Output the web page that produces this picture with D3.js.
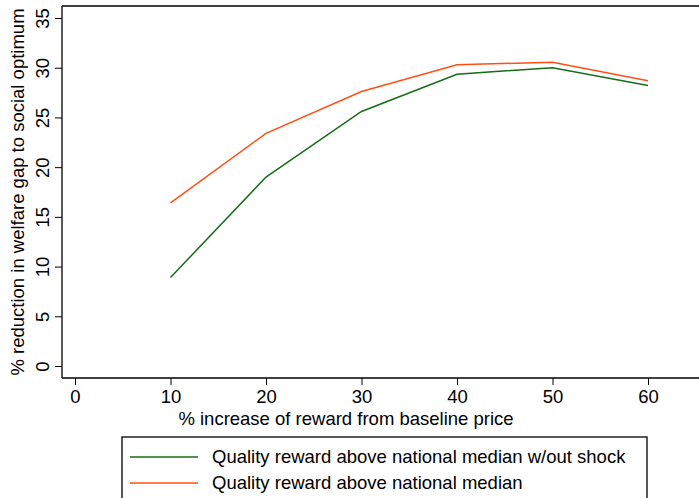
<!DOCTYPE html>
<html>
<head>
<meta charset="utf-8">
<script src="https://cdn.jsdelivr.net/npm/d3@7"></script>
<style>
  html, body { margin: 0; padding: 0; background: #fff; }
  svg { display: block; font-family: "Liberation Sans", Arial, sans-serif; }
</style>
</head>
<body>
<div class="chart_area"></div>
<script>

// data
var rewardIncrease = [10, 20, 30, 40, 50, 60];
var noShock = [8.9, 19.0, 25.6, 29.35, 30.0, 28.2];
var withShock = [16.4, 23.4, 27.6, 30.3, 30.55, 28.7];

var xTicks = [0, 10, 20, 30, 40, 50, 60];
var yTicks = [0, 5, 10, 15, 20, 25, 30, 35];

var seriesNames = ["Quality reward above national median w/out shock", "Quality reward above national median"];
var seriesColors = ["#176c17", "#ff4f12"];

var width = 699, height = 498;
var fontSize = "18.5px";

// plot region (frame runs off the right side of the picture)
var frame = { left: 62, top: 6, bottom: 378 };

var svg = d3.select(".chart_area")
    .append("svg")
    .attr("width", width)
    .attr("height", height);

var x = d3.scaleLinear()
    .domain([0, 60])
    .range([75, 648]);

var y = d3.scaleLinear()
    .domain([0, 35])
    .range([366, 18]);

// frame lines
svg.append("line")
    .attr("x1", frame.left).attr("x2", width)
    .attr("y1", frame.top).attr("y2", frame.top)
    .attr("stroke", "#000").attr("stroke-width", 1.3);

// X axis
var xAxis = svg.append("g")
    .attr("transform", "translate(0," + frame.bottom + ")")
    .call(d3.axisBottom(x).tickValues(xTicks).tickSize(7).tickPadding(5).tickFormat(d3.format("d")));

xAxis.select(".domain")
    .attr("d", "M" + frame.left + ",0H" + width)
    .style("stroke", "#000")
    .style("stroke-width", 1.3);

xAxis.selectAll("line").style("stroke", "#000");
xAxis.selectAll("text")
    .style("font-size", fontSize)
    .style("fill", "#000");

// Y axis
var yAxis = svg.append("g")
    .attr("transform", "translate(" + frame.left + ",0)")
    .call(d3.axisLeft(y).tickValues(yTicks).tickSize(7).tickFormat(d3.format("d")));

yAxis.select(".domain")
    .attr("d", "M0," + frame.top + "V" + frame.bottom)
    .style("stroke", "#000")
    .style("stroke-width", 1.3);

yAxis.selectAll("line").style("stroke", "#000");

// vertical tick labels, like stata
yAxis.selectAll("text")
    .attr("x", null).attr("dy", null)
    .attr("transform", "translate(-13,0) rotate(-90)")
    .attr("text-anchor", "middle")
    .style("font-size", fontSize)
    .style("fill", "#000");

// axis titles
svg.append("text")
    .attr("x", 346)
    .attr("y", 425)
    .attr("text-anchor", "middle")
    .style("font-size", fontSize)
    .text("% increase of reward from baseline price");

svg.append("text")
    .attr("transform", "translate(24," + ((frame.top + frame.bottom) / 2) + ") rotate(-90)")
    .attr("text-anchor", "middle")
    .style("font-size", fontSize)
    .text("% reduction in welfare gap to social optimum");

// lines
var allSeries = [noShock, withShock];

for (var s = 0; s < allSeries.length; s++) {
    var pts = rewardIncrease.map(function (d, i) { return { x: d, v: allSeries[s][i] }; });
    svg.append("path")
        .datum(pts)
        .attr("d", d3.line()
            .x(function (d) { return x(d.x); })
            .y(function (d) { return y(d.v); })
        )
        .attr("fill", "none")
        .attr("stroke", seriesColors[s])
        .attr("stroke-width", 1.5);
}

// legend
var legend = svg.append("g");

legend.append("rect")
    .attr("x", 122).attr("y", 437)
    .attr("width", 525).attr("height", 80)
    .attr("fill", "#fff")
    .attr("stroke", "#000")
    .attr("stroke-width", 1.3);

var rows = legend.selectAll(".row")
    .data(seriesNames)
    .enter()
    .append("g")
    .attr("transform", function (d, i) { return "translate(130," + (457 + i * 26) + ")"; });

rows.append("line")
    .attr("x1", 0).attr("x2", 68)
    .attr("stroke", function (d, i) { return seriesColors[i]; })
    .attr("stroke-width", 1.5);

rows.append("text")
    .attr("x", 82)
    .attr("dy", "0.35em")
    .style("font-size", fontSize)
    .text(function (d) { return d; });

</script>
</body>
</html>
